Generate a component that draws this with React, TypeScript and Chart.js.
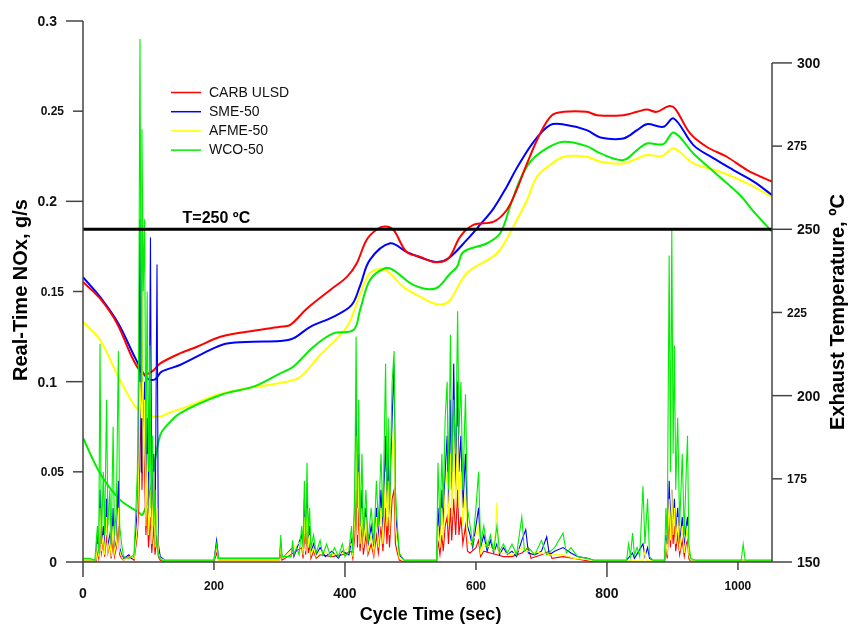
import React, { useEffect, useRef } from "react";
import { Chart, registerables } from "chart.js";
Chart.register(...registerables);

const FUELS = ["CARB ULSD", "SME-50", "AFME-50", "WCO-50"];
const COLORS = ["#FF0000", "#0000FF", "#FFFF00", "#00EE00"];

const timeTicks = [0, 200, 400, 600, 800, 1000];
const timeMajor = [true, false, true, false, true, false];
const noxTicks = [0, 0.05, 0.1, 0.15, 0.2, 0.25, 0.3];
const noxMajor = [true, false, true, false, true, false, true];
const tempTicks = [150, 175, 200, 225, 250, 275, 300];
const tempMajor = [true, false, true, false, true, false, true];
const thresholdTemp = 250;
const thresholdLabel = "T=250 ºC";
const xTitle = "Cycle Time (sec)";
const yLeftTitle = "Real-Time NOx, g/s";
const yRightTitle = "Exhaust Temperature, ºC";

// Exhaust temperature [time s, °C]
const carbTemp: [number, number][] = [
  [0, 234.2], [26, 229.2], [52, 221.7], [77, 210.7], [92, 206.5], [105, 207.2], [118, 209.7],
  [148, 212.7], [174, 214.7], [210, 217.7], [250, 219.2], [301, 220.7], [316, 221.2], [342, 226.2],
  [377, 231.7], [403, 235.7], [418, 239.8], [433, 246.8], [449, 250.0], [461, 250.8], [474, 249.8],
  [494, 243.2], [515, 241.7], [538, 240.1], [558, 241.3], [576, 247.8], [596, 251.3], [627, 252.3],
  [647, 255.8], [662, 261.8], [678, 269.8], [698, 278.8], [716, 284.3], [734, 285.3], [769, 285.3],
  [785, 284.3], [825, 284.3], [846, 285.3], [861, 286.0], [876, 285.3], [894, 287.0], [904, 286.3],
  [927, 278.8], [952, 274.8], [983, 271.8], [1014, 267.8], [1052, 264.3]
];
const smeTemp: [number, number][] = [
  [0, 235.6], [26, 229.7], [54, 221.7], [80, 211.2], [98, 205.2], [110, 204.9], [120, 207.2],
  [148, 209.2], [199, 214.2], [220, 215.7], [260, 216.2], [301, 216.4], [321, 217.2], [347, 220.7],
  [382, 223.7], [410, 227.2], [423, 233.0], [438, 240.8], [469, 245.8], [494, 243.2], [538, 240.2],
  [558, 241.3], [586, 246.8], [606, 251.3], [627, 256.3], [647, 262.8], [662, 268.3], [688, 276.3],
  [713, 281.3], [734, 281.5], [769, 279.8], [790, 277.6], [825, 277.3], [846, 279.8], [861, 281.6],
  [886, 280.8], [902, 283.3], [932, 275.3], [963, 271.3], [993, 267.8], [1024, 264.3], [1052, 260.3]
];
const afmeTemp: [number, number][] = [
  [0, 222.2], [26, 216.7], [54, 205.7], [80, 196.7], [98, 194.2], [118, 193.7], [130, 194.7],
  [159, 196.7], [204, 200.2], [250, 202.2], [311, 204.2], [332, 205.7], [362, 212.2], [403, 220.7],
  [423, 230.5], [438, 236.8], [461, 237.8], [489, 232.7], [515, 229.7], [540, 227.5], [558, 228.2],
  [586, 236.8], [632, 242.8], [657, 250.8], [678, 258.8], [693, 265.8], [713, 269.3], [734, 271.8],
  [769, 271.8], [790, 270.3], [825, 269.8], [861, 272.3], [884, 272.0], [902, 274.3], [932, 269.8],
  [973, 267.3], [1014, 263.8], [1052, 259.8]
];
const wcoTemp: [number, number][] = [
  [0, 187.3], [26, 176.7], [57, 168.6], [84, 165.1], [91, 164.2], [103, 171.6], [110, 180.7],
  [118, 188.2], [126, 190.6], [148, 194.7], [210, 200.2], [260, 202.7], [301, 206.7], [321, 208.7],
  [352, 214.7], [382, 218.7], [413, 219.7], [423, 225.7], [438, 234.7], [461, 238.3], [474, 237.7],
  [505, 233.2], [538, 232.2], [561, 236.8], [571, 238.7], [581, 243.2], [617, 245.8], [637, 248.8],
  [652, 256.8], [667, 264.8], [683, 270.3], [708, 274.3], [734, 276.3], [769, 275.0], [790, 272.8],
  [825, 270.8], [846, 273.8], [861, 275.8], [886, 275.6], [902, 279.1], [932, 272.8], [963, 267.3],
  [1003, 260.3], [1024, 255.3], [1052, 249.3]
];

// Real-time NOx [time s, g/s]
const carbNox: [number, number][] = [
  [0, 0], [20, 0], [22, 0.006], [24, 0.002], [26, 0.02], [28, 0.005], [31, 0.012], [33, 0.003],
  [36, 0.015], [38, 0.005], [41, 0.01], [43, 0.002], [46, 0.012], [48, 0.003], [51, 0.008],
  [54, 0.02], [56, 0.004], [59, 0.002], [62, 0.001], [70, 0.003], [78, 0.001], [83, 0.015],
  [85, 0.03], [87, 0.06], [89, 0.085], [90, 0.04], [92, 0.07], [94, 0.05], [96, 0.015], [98, 0.03],
  [100, 0.008], [103, 0.025], [105, 0.005], [108, 0.02], [110, 0.004], [113, 0.015], [115, 0.003],
  [118, 0.001], [125, 0], [200, 0], [204, 0.005], [207, 0.001], [300, 0.001], [302, 0.005],
  [304, 0.001], [334, 0.008], [336, 0.002], [338, 0.018], [340, 0.004], [342, 0.02], [344, 0.005],
  [346, 0.01], [348, 0.002], [352, 0.006], [356, 0.002], [362, 0.004], [380, 0.003], [396, 0.004],
  [410, 0.006], [412, 0.002], [415, 0.015], [417, 0.04], [419, 0.008], [421, 0.03], [423, 0.006],
  [426, 0.02], [428, 0.004], [432, 0.015], [435, 0.004], [440, 0.01], [444, 0.003], [448, 0.015],
  [451, 0.005], [455, 0.02], [458, 0.006], [462, 0.03], [464, 0.01], [466, 0.025], [468, 0.008],
  [472, 0.035], [475, 0.04], [477, 0.01], [480, 0.005], [483, 0.001], [490, 0], [540, 0],
  [542, 0.012], [545, 0.004], [548, 0.015], [550, 0.006], [553, 0.02], [556, 0.025], [558, 0.01],
  [561, 0.03], [563, 0.012], [566, 0.035], [569, 0.015], [572, 0.04], [574, 0.015], [577, 0.025],
  [580, 0.01], [584, 0.02], [587, 0.006], [591, 0.005], [600, 0.008], [604, 0.012], [607, 0.003],
  [612, 0.006], [622, 0.005], [632, 0.004], [642, 0.003], [655, 0.003], [670, 0.005], [680, 0.008],
  [684, 0.002], [700, 0.004], [712, 0.006], [716, 0.002], [733, 0.003], [750, 0.002], [780, 0],
  [888, 0], [890, 0.008], [892, 0.002], [895, 0.025], [897, 0.008], [899, 0.03], [901, 0.01],
  [903, 0.02], [905, 0.006], [908, 0.015], [911, 0.004], [915, 0.012], [918, 0.003], [921, 0.01],
  [923, 0.012], [925, 0.002], [928, 0], [1052, 0]
];
const smeNox: [number, number][] = [
  [0, 0.001], [20, 0.001], [22, 0.015], [24, 0.004], [26, 0.04], [28, 0.008], [31, 0.02],
  [33, 0.005], [36, 0.035], [38, 0.008], [41, 0.015], [43, 0.004], [46, 0.03], [48, 0.006],
  [51, 0.012], [54, 0.045], [56, 0.008], [59, 0.004], [62, 0.002], [70, 0.004], [74, 0.002],
  [78, 0.003], [83, 0.03], [85, 0.06], [87, 0.19], [89, 0.05], [90, 0.12], [92, 0.06], [94, 0.1],
  [96, 0.03], [98, 0.08], [100, 0.02], [103, 0.18], [105, 0.02], [108, 0.06], [110, 0.01],
  [113, 0.165], [115, 0.01], [118, 0.003], [125, 0.001], [200, 0.001], [204, 0.012], [207, 0.002],
  [300, 0.002], [302, 0.01], [304, 0.002], [320, 0.008], [322, 0.003], [334, 0.015], [336, 0.005],
  [338, 0.035], [340, 0.008], [342, 0.04], [344, 0.01], [346, 0.02], [348, 0.005], [352, 0.01],
  [356, 0.004], [362, 0.008], [370, 0.003], [380, 0.006], [390, 0.002], [396, 0.006], [406, 0.004],
  [410, 0.012], [412, 0.004], [415, 0.03], [417, 0.09], [419, 0.02], [421, 0.06], [423, 0.015],
  [426, 0.04], [428, 0.01], [432, 0.03], [435, 0.008], [440, 0.02], [444, 0.008], [448, 0.03],
  [451, 0.012], [455, 0.04], [458, 0.015], [462, 0.07], [464, 0.03], [466, 0.06], [468, 0.02],
  [472, 0.08], [475, 0.11], [477, 0.03], [480, 0.015], [483, 0.004], [490, 0.001], [540, 0.001],
  [542, 0.03], [545, 0.012], [548, 0.04], [550, 0.02], [553, 0.05], [556, 0.07], [558, 0.03],
  [561, 0.09], [563, 0.035], [566, 0.11], [569, 0.04], [572, 0.1], [574, 0.05], [577, 0.07],
  [580, 0.03], [584, 0.06], [587, 0.02], [591, 0.015], [595, 0.008], [600, 0.02], [604, 0.03],
  [607, 0.008], [612, 0.015], [617, 0.006], [622, 0.012], [627, 0.005], [632, 0.01], [636, 0.004],
  [642, 0.008], [648, 0.004], [655, 0.006], [662, 0.003], [670, 0.012], [676, 0.018], [680, 0.005],
  [690, 0.004], [700, 0.006], [708, 0.014], [712, 0.004], [720, 0.006], [733, 0.008], [745, 0.005],
  [755, 0.003], [770, 0.002], [780, 0.001], [830, 0.001], [839, 0.005], [842, 0.002], [855, 0.01],
  [858, 0.003], [862, 0.008], [865, 0.002], [870, 0.001], [888, 0.001], [890, 0.015], [892, 0.005],
  [895, 0.045], [897, 0.02], [899, 0.04], [901, 0.02], [903, 0.035], [905, 0.015], [908, 0.03],
  [911, 0.01], [915, 0.025], [918, 0.008], [921, 0.02], [923, 0.025], [925, 0.005], [928, 0.001],
  [1052, 0.001]
];
const afmeNox: [number, number][] = [
  [0, 0.001], [20, 0.001], [22, 0.01], [24, 0.003], [26, 0.03], [28, 0.006], [31, 0.015],
  [33, 0.004], [36, 0.025], [38, 0.006], [41, 0.012], [43, 0.003], [46, 0.02], [48, 0.005],
  [51, 0.01], [54, 0.03], [56, 0.006], [59, 0.003], [62, 0.001], [72, 0.003], [78, 0.002],
  [83, 0.02], [85, 0.05], [87, 0.1], [89, 0.08], [90, 0.15], [92, 0.05], [94, 0.09], [96, 0.02],
  [98, 0.06], [100, 0.015], [103, 0.04], [105, 0.01], [108, 0.05], [110, 0.008], [113, 0.03],
  [115, 0.005], [118, 0.002], [125, 0.001], [200, 0.001], [204, 0.008], [207, 0.001], [300, 0.001],
  [302, 0.008], [304, 0.002], [334, 0.012], [336, 0.004], [338, 0.025], [340, 0.006], [342, 0.03],
  [344, 0.008], [346, 0.015], [348, 0.004], [352, 0.008], [356, 0.003], [362, 0.006], [380, 0.004],
  [396, 0.005], [410, 0.01], [412, 0.003], [415, 0.025], [417, 0.07], [419, 0.015], [421, 0.05],
  [423, 0.01], [426, 0.03], [428, 0.008], [432, 0.025], [435, 0.006], [440, 0.015], [444, 0.005],
  [448, 0.025], [451, 0.008], [455, 0.03], [458, 0.01], [462, 0.05], [464, 0.02], [466, 0.045],
  [468, 0.015], [472, 0.06], [475, 0.08], [477, 0.02], [480, 0.01], [483, 0.002], [490, 0.001],
  [540, 0.001], [542, 0.02], [545, 0.008], [548, 0.03], [550, 0.012], [553, 0.04], [556, 0.05],
  [558, 0.02], [561, 0.06], [563, 0.025], [566, 0.07], [569, 0.03], [572, 0.075], [574, 0.03],
  [577, 0.05], [580, 0.02], [584, 0.04], [587, 0.012], [591, 0.01], [600, 0.015], [604, 0.02],
  [607, 0.005], [612, 0.01], [622, 0.008], [628, 0.006], [632, 0.033], [634, 0.005], [642, 0.005],
  [655, 0.004], [670, 0.008], [680, 0.006], [700, 0.005], [712, 0.004], [733, 0.004], [750, 0.002],
  [780, 0.001], [855, 0.001], [858, 0.006], [860, 0.001], [888, 0.001], [890, 0.012], [892, 0.004],
  [895, 0.035], [897, 0.012], [899, 0.04], [901, 0.015], [903, 0.03], [905, 0.01], [908, 0.025],
  [911, 0.006], [915, 0.02], [918, 0.005], [921, 0.015], [923, 0.02], [925, 0.004], [928, 0.001],
  [1052, 0.001]
];
const wcoNox: [number, number][] = [
  [0, 0.002], [10, 0.002], [18, 0.001], [22, 0.02], [24, 0.005], [26, 0.121], [28, 0.01],
  [31, 0.05], [33, 0.015], [36, 0.09], [38, 0.02], [41, 0.04], [43, 0.01], [46, 0.075],
  [48, 0.015], [51, 0.03], [54, 0.117], [56, 0.02], [59, 0.01], [62, 0.003], [70, 0.002],
  [78, 0.004], [83, 0.05], [85, 0.12], [87, 0.29], [89, 0.1], [90, 0.24], [92, 0.15], [94, 0.19],
  [96, 0.06], [98, 0.15], [100, 0.05], [102, 0.12], [104, 0.03], [106, 0.07], [108, 0.02],
  [110, 0.04], [112, 0.01], [116, 0.003], [120, 0.001], [200, 0.001], [204, 0.01], [207, 0.002],
  [300, 0.002], [302, 0.015], [304, 0.003], [318, 0.003], [320, 0.012], [322, 0.004], [326, 0.008],
  [330, 0.004], [334, 0.02], [336, 0.008], [338, 0.045], [340, 0.01], [342, 0.055], [344, 0.015],
  [346, 0.03], [348, 0.008], [352, 0.015], [356, 0.005], [362, 0.012], [366, 0.004], [372, 0.01],
  [378, 0.003], [384, 0.008], [390, 0.003], [396, 0.01], [400, 0.003], [406, 0.006], [410, 0.02],
  [412, 0.005], [415, 0.04], [417, 0.125], [419, 0.03], [421, 0.09], [423, 0.02], [426, 0.06],
  [428, 0.015], [432, 0.04], [435, 0.01], [440, 0.03], [444, 0.01], [448, 0.045], [451, 0.02],
  [455, 0.06], [458, 0.025], [462, 0.11], [464, 0.04], [466, 0.08], [468, 0.03], [472, 0.1],
  [475, 0.117], [477, 0.04], [480, 0.02], [483, 0.005], [490, 0.001], [540, 0.001], [542, 0.055],
  [545, 0.02], [548, 0.06], [550, 0.03], [553, 0.08], [556, 0.1], [558, 0.04], [561, 0.126],
  [563, 0.05], [566, 0.09], [569, 0.06], [572, 0.139], [574, 0.07], [577, 0.1], [580, 0.04],
  [584, 0.093], [587, 0.03], [591, 0.02], [595, 0.01], [600, 0.03], [604, 0.05], [607, 0.01],
  [612, 0.02], [617, 0.008], [622, 0.015], [627, 0.006], [632, 0.02], [636, 0.006], [642, 0.01],
  [648, 0.005], [655, 0.01], [662, 0.004], [670, 0.025], [674, 0.006], [680, 0.008], [690, 0.004],
  [700, 0.012], [708, 0.004], [720, 0.008], [733, 0.016], [738, 0.005], [745, 0.008], [755, 0.003],
  [770, 0.002], [780, 0.001], [830, 0.001], [833, 0.01], [836, 0.003], [839, 0.016], [842, 0.004],
  [846, 0.008], [850, 0.003], [855, 0.042], [858, 0.01], [862, 0.035], [865, 0.003], [870, 0.001],
  [888, 0.001], [890, 0.03], [892, 0.01], [895, 0.17], [897, 0.05], [899, 0.185], [901, 0.06],
  [903, 0.12], [905, 0.04], [908, 0.08], [911, 0.02], [915, 0.06], [918, 0.015], [921, 0.05],
  [923, 0.07], [925, 0.01], [928, 0.002], [935, 0.001], [1005, 0.001], [1008, 0.01], [1011, 0.001],
  [1052, 0.001]
];

const TEMPS = [carbTemp, smeTemp, afmeTemp, wcoTemp];
const NOXS = [carbNox, smeNox, afmeNox, wcoNox];

const FONT = '"Liberation Sans", Arial, Helvetica, sans-serif';
const AXIS_COLOR = "#444";

const pts = (a: [number, number][]) => a.map(([x, y]) => ({ x, y }));

const axesPlugin = {
  id: "customAxes",
  afterDraw(chart: any) {
    const ctx = chart.ctx as CanvasRenderingContext2D;
    const { left, right, top, bottom } = chart.chartArea;
    const sx = chart.scales.x;
    const sn = chart.scales.yN;
    const st = chart.scales.yT;
    ctx.save();
    ctx.strokeStyle = AXIS_COLOR;
    ctx.lineWidth = 1.5;
    ctx.fillStyle = "#111";
    // axis lines
    ctx.beginPath();
    ctx.moveTo(left, sn.getPixelForValue(noxTicks[noxTicks.length - 1]));
    ctx.lineTo(left, bottom);
    ctx.lineTo(right, bottom);
    ctx.moveTo(right, st.getPixelForValue(tempTicks[tempTicks.length - 1]));
    ctx.lineTo(right, bottom);
    ctx.stroke();

    // left ticks
    ctx.textBaseline = "middle";
    noxTicks.forEach((v, i) => {
      const y = sn.getPixelForValue(v);
      const len = noxMajor[i] ? 17 : 10;
      ctx.beginPath();
      ctx.moveTo(left, y);
      ctx.lineTo(left - len, y);
      ctx.stroke();
      ctx.font = `bold ${noxMajor[i] ? 14 : 12}px ${FONT}`;
      ctx.textAlign = "right";
      ctx.fillText(String(Number(v.toFixed(2))), left - len - 9, y + 1);
    });
    // right ticks
    tempTicks.forEach((v, i) => {
      const y = st.getPixelForValue(v);
      const len = tempMajor[i] ? 20 : 10;
      ctx.beginPath();
      ctx.moveTo(right, y);
      ctx.lineTo(right + len, y);
      ctx.stroke();
      ctx.font = `bold ${tempMajor[i] ? 14 : 12}px ${FONT}`;
      ctx.textAlign = "left";
      ctx.fillText(String(v), right + len + 5, y + 1);
    });
    // x ticks
    timeTicks.forEach((v, i) => {
      const x = sx.getPixelForValue(v);
      const len = timeMajor[i] ? 15 : 8;
      ctx.beginPath();
      ctx.moveTo(x, bottom);
      ctx.lineTo(x, bottom + len);
      ctx.stroke();
      ctx.font = `bold ${timeMajor[i] ? 14 : 12}px ${FONT}`;
      ctx.textAlign = "center";
      ctx.fillText(String(v), x, bottom + len + 17);
    });

    // titles
    ctx.fillStyle = "#000";
    ctx.font = `bold 18px ${FONT}`;
    ctx.textAlign = "center";
    ctx.textBaseline = "alphabetic";
    ctx.fillText(xTitle, (left + right) / 2 + 3, 620);

    ctx.font = `bold 20px ${FONT}`;
    ctx.save();
    ctx.translate(27, 290);
    ctx.rotate(-Math.PI / 2);
    ctx.fillText(yLeftTitle, 0, 0);
    ctx.restore();
    ctx.save();
    ctx.translate(843.5, 312);
    ctx.rotate(-Math.PI / 2);
    ctx.fillText(yRightTitle, 0, 0);
    ctx.restore();

    // threshold label
    ctx.font = `bold 16px ${FONT}`;
    ctx.textAlign = "left";
    ctx.fillText(thresholdLabel, sx.getPixelForValue(152), st.getPixelForValue(thresholdTemp) - 6);

    // legend
    ctx.font = `14px ${FONT}`;
    ctx.textBaseline = "middle";
    FUELS.forEach((name, i) => {
      const y = 92.5 + i * 19.2;
      ctx.strokeStyle = COLORS[i];
      ctx.lineWidth = 1.5;
      ctx.beginPath();
      ctx.moveTo(171, y);
      ctx.lineTo(201, y);
      ctx.stroke();
      ctx.fillStyle = "#111";
      ctx.fillText(name, 209, y + 0.5);
    });
    ctx.restore();
  },
};

export default function App() {
  const ref = useRef<HTMLCanvasElement | null>(null);
  useEffect(() => {
    if (!ref.current) return;
    const datasets: any[] = [];
    datasets.push({
      label: "threshold",
      data: pts([[0, thresholdTemp], [1052, thresholdTemp]]),
      yAxisID: "yT",
      borderColor: "#000",
      borderWidth: 3,
      pointRadius: 0,
      order: 0,
    });
    [3, 2, 1, 0].forEach((i, k) => {
      datasets.push({
        label: FUELS[i] + " NOx",
        data: pts(NOXS[i]),
        yAxisID: "yN",
        borderColor: COLORS[i],
        borderWidth: 1.1,
        pointRadius: 0,
        tension: 0,
        order: 1 + k,
      });
    });
    [0, 1, 3, 2].forEach((i, k) => {
      datasets.push({
        label: FUELS[i] + " T",
        data: pts(TEMPS[i]),
        yAxisID: "yT",
        borderColor: COLORS[i],
        borderWidth: 2,
        pointRadius: 0,
        tension: 0.35,
        order: 10 + k,
      });
    });
    const chart = new Chart(ref.current, {
      type: "line",
      data: { datasets },
      options: {
        animation: false,
        responsive: false,
        devicePixelRatio: 1,
        parsing: true,
        layout: { padding: { left: 83, right: 76, top: 21, bottom: 64 } },
        plugins: { legend: { display: false }, tooltip: { enabled: false } },
        scales: {
          x: { type: "linear", min: 0, max: 1052, display: false },
          yN: { type: "linear", position: "left", min: 0, max: 0.3, display: false },
          yT: { type: "linear", position: "right", min: 150, max: 312.6, display: false },
        },
      },
      plugins: [axesPlugin],
    });
    return () => chart.destroy();
  }, []);
  return (
    <div style={{ position: "fixed", left: 0, top: 0, width: 848, height: 626, background: "#fff" }}>
      <canvas ref={ref} width={848} height={626} />
    </div>
  );
}
